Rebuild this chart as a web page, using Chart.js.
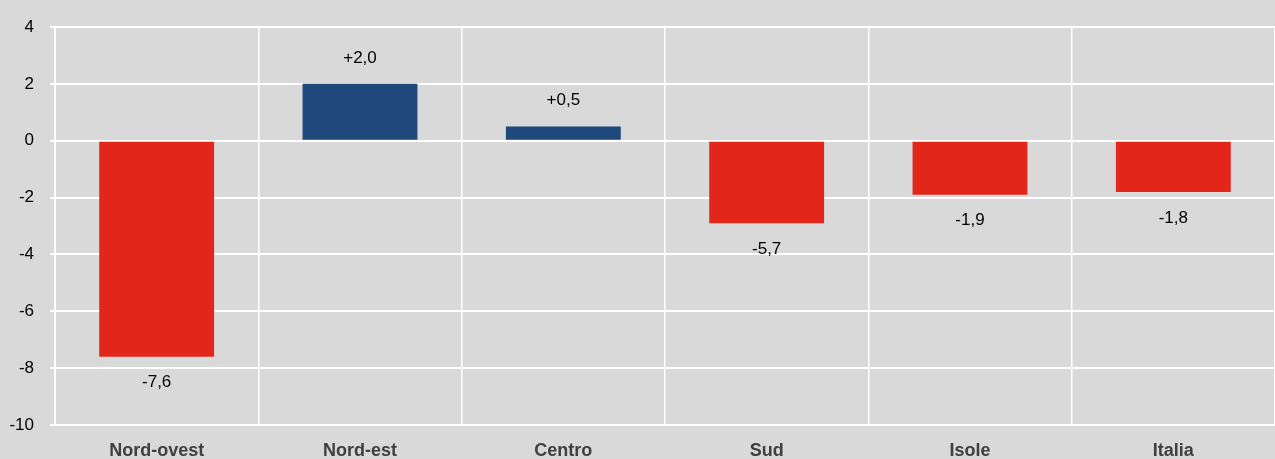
<!DOCTYPE html>
<html><head><meta charset="utf-8">
<script src="https://cdn.jsdelivr.net/npm/chart.js@4"></script>
<style>html,body{margin:0;padding:0;background:#d9d9d9;}#wrap{width:1275px;height:459px;}</style>
</head><body><div id="wrap"><canvas id="c" width="1275" height="459"></canvas></div>
<script>
const categories = ["Nord-ovest", "Nord-est", "Centro", "Sud", "Isole", "Italia"];
const values = [-7.6, 2.0, 0.5, -2.9, -1.9, -1.8];
const valueLabels = ["-7,6", "+2,0", "+0,5", "-5,7", "-1,9", "-1,8"];
const yMin = -10, yMax = 4, yStep = 2;

const RED = "#e3261a", BLUE = "#1f497d";
const FONT = "'Liberation Sans', Arial, sans-serif";

const labelPlugin = {
  id: "valueLabels",
  afterDatasetsDraw(chart) {
    const ctx = chart.ctx;
    const meta = chart.getDatasetMeta(0);
    ctx.save();
    ctx.font = "17px " + FONT;
    ctx.fillStyle = "#000";
    ctx.textAlign = "center";
    ctx.textBaseline = "middle";
    meta.data.forEach((bar, i) => {
      const v = values[i];
      const y = v >= 0 ? bar.y - 26 : bar.y + 26;
      ctx.fillText(valueLabels[i], bar.x, y);
    });
    ctx.restore();
  }
};

new Chart(document.getElementById("c"), {
  type: "bar",
  data: {
    labels: categories,
    datasets: [{
      data: values,
      backgroundColor: values.map(v => v >= 0 ? BLUE : RED),
      borderWidth: 0,
      categoryPercentage: 1,
      barPercentage: 0.565
    }]
  },
  options: {
    responsive: false,
    animation: false,
    devicePixelRatio: 1,
    layout: { padding: { top: 27, right: 0, left: 0, bottom: 0 } },
    plugins: { legend: { display: false }, tooltip: { enabled: false } },
    scales: {
      x: {
        offset: true,
        grid: { color: "#ffffff", lineWidth: 1.5, offset: true, drawTicks: false },
        border: { display: false },
        ticks: { color: "#404040", font: { family: FONT, size: 18, weight: "bold" }, padding: 15, maxRotation: 0 },
        afterFit(s) { s.height = 34; }
      },
      y: {
        min: yMin, max: yMax,
        ticks: { stepSize: yStep, color: "#000", font: { family: FONT, size: 17 }, padding: 16 },
        grid: { color: "#ffffff", lineWidth: 2, tickLength: 5, tickColor: "#ffffff" },
        border: { color: "#ffffff", width: 2 },
        afterFit(s) { s.width = 55; }
      }
    }
  },
  plugins: [labelPlugin]
});
</script></body></html>
